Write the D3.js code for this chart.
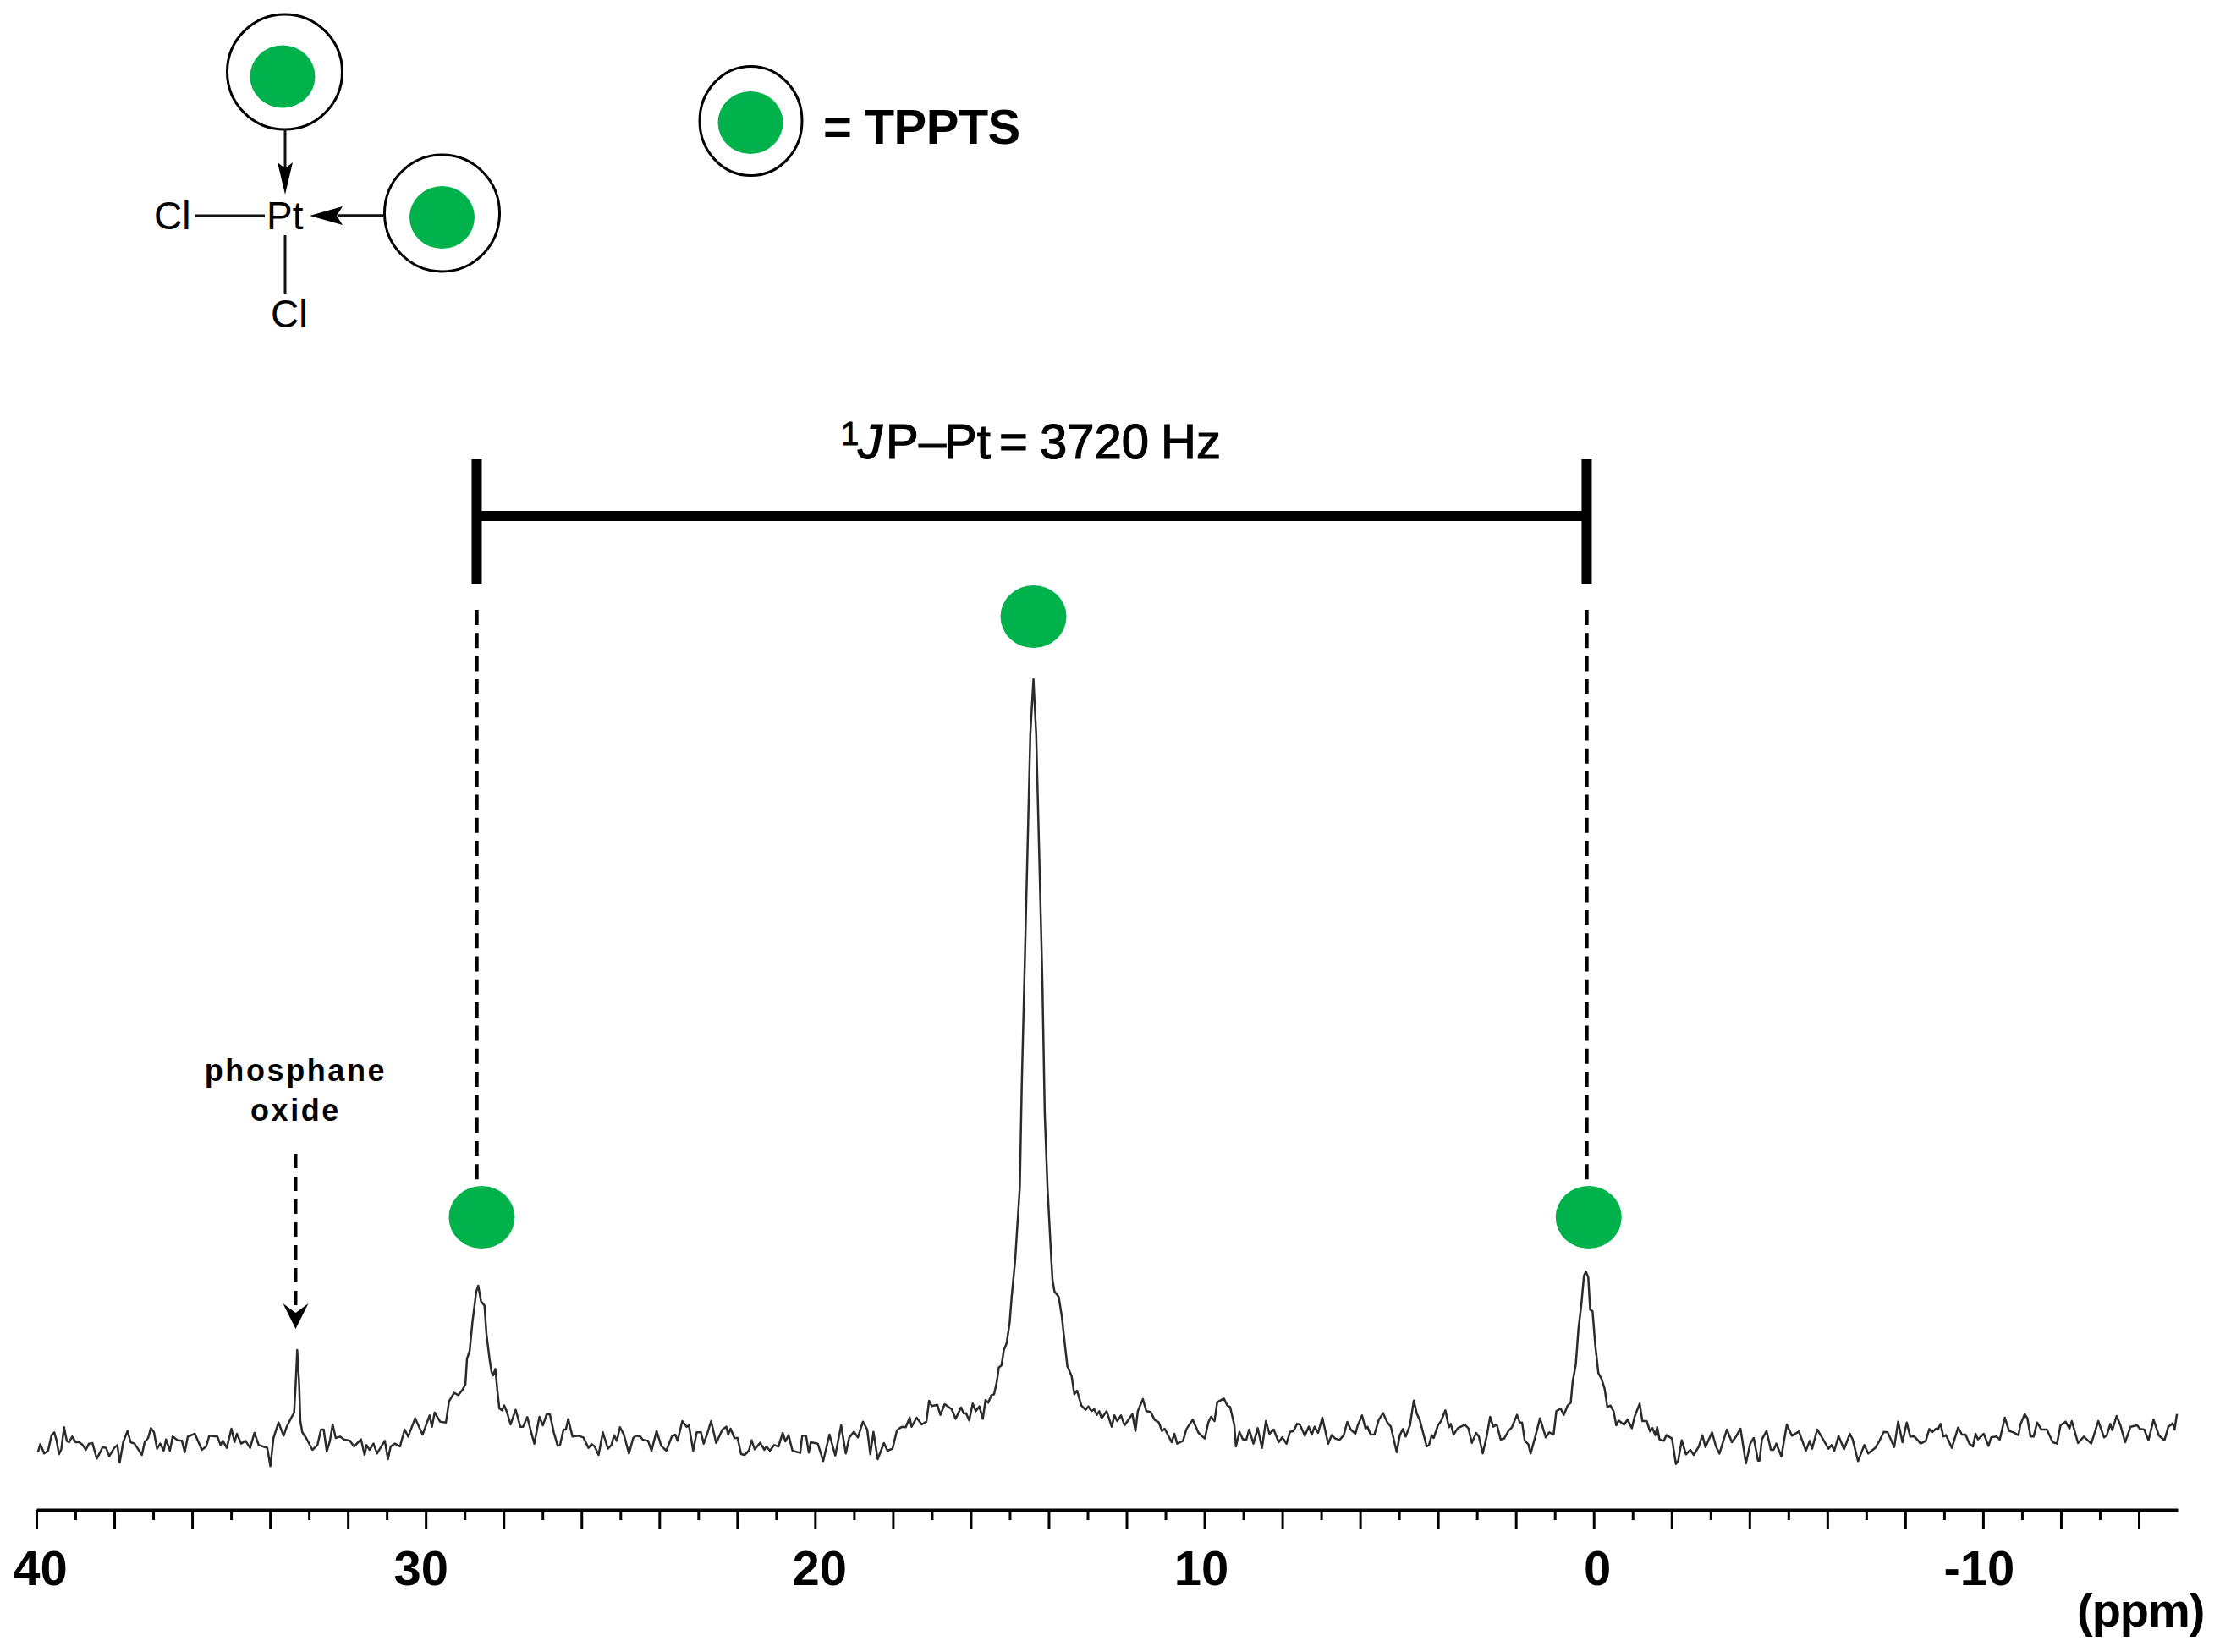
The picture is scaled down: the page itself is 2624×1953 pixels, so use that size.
<!DOCTYPE html>
<html lang="en">

<head>
  <meta charset="UTF-8">
  <title>31P NMR spectrum of cis-PtCl2(TPPTS)2</title>
  <script src="https://d3js.org/d3.v7.min.js"></script>
  <style>
    body {
      margin: 0;
      background: #fff;
      font-family: "Liberation Sans", Arial, sans-serif;
    }

    svg {
      display: block;
    }

    .trace {
      fill: none;
      stroke: #2b2b2b;
      stroke-width: 2.5px;
      stroke-linejoin: round;
    }

    .axis path,
    .axis line {
      stroke: #000;
    }

    .axis path {
      stroke-width: 4px;
    }

    .axis line {
      stroke-width: 3px;
    }

    .axis text {
      font-family: "Liberation Sans", Arial, sans-serif;
      font-size: 58px;
      font-weight: bold;
      fill: #000;
    }

    .ligand {
      fill: #00b24c;
    }

    .ring {
      fill: none;
      stroke: #000;
      stroke-width: 3px;
    }

    .bond {
      stroke: #111;
    }
  </style>
</head>

<body>
  <div id="chart"></div>

  <script>
    // Trace as [ppm, intensity (a.u.)], left to right
    const traceOxide = [
      [39.96,130],[39.90,158],[39.80,125],[39.70,135],[39.61,190],[39.54,200],[39.48,170],[39.42,122],[39.36,140],[39.29,218],
      [39.22,170],[39.16,165],[39.08,185],[38.99,165],[38.90,165],[38.81,155],[38.73,138],[38.65,160],[38.56,162],[38.45,107],
      [38.36,130],[38.30,148],[38.21,145],[38.13,115],[38.00,145],[37.92,155],[37.86,93],[37.77,165],[37.66,205],[37.58,165],
      [37.48,160],[37.29,120],[37.22,165],[37.13,180],[37.06,215],[36.98,200],[36.90,142],[36.82,160],[36.73,135],[36.67,175],
      [36.57,135],[36.50,185],[36.37,172],[36.26,170],[36.19,130],[36.11,185],[35.93,195],[35.75,138],[35.64,150],[35.56,188],
      [35.35,185],[35.27,155],[35.21,170],[35.11,145],[34.99,213],[34.91,165],[34.85,195],[34.74,160],[34.63,170],[34.51,145],
      [34.40,198],[34.29,155],[34.18,150],[34.07,145],[33.99,80],[33.91,180],[33.78,235],[33.65,188],[33.57,220],[33.44,255],
      [33.38,270],[33.34,370],[33.30,492],[33.25,370],[33.22,240],[33.17,200],[33.07,180],[32.91,138],[32.78,155],[32.69,210],
      [32.62,210],[32.54,132],[32.46,170],[32.39,228],[32.31,180],[32.20,185],[32.10,175],[31.95,170],[31.84,150],[31.66,175],
      [31.57,120],[31.52,155],[31.44,138],[31.34,160],[31.25,125],[31.12,155],[31.05,170],[30.97,105],[30.90,150],[30.79,160],
      [30.66,150],[30.54,210],[30.45,185],[30.27,250],[30.08,192],[29.90,260],[29.84,220],[29.77,270],[29.63,238],[29.48,235],
      [29.40,310],[29.27,340],[29.16,332],[29.06,350]
    ];

    const traceSatelliteLeft = [
      [28.98,370],[28.94,460],[28.87,490],[28.80,590],[28.70,700],[28.65,720],[28.58,665],[28.49,650],[28.44,550],[28.36,460],
      [28.31,415],[28.27,402],[28.21,425],[28.16,350],[28.11,285],[28.04,278],[27.98,295],[27.91,270],[27.82,228],[27.69,280],
      [27.57,220],[27.50,220],[27.39,254],[27.30,205],[27.21,160],[27.08,255],[26.99,225],[26.89,265],[26.81,263],[26.71,200],
      [26.61,152],[26.55,155],[26.46,210],[26.40,210],[26.34,247],[26.23,185],[26.08,188],[25.95,182],[25.82,145],[25.74,158],
      [25.66,150],[25.56,120],[25.45,200],[25.32,142],[25.23,155],[25.16,190],[25.09,170],[25.01,218],[24.91,192],[24.78,125],
      [24.67,180],[24.60,188],[24.49,185],[24.42,173],[24.29,170],[24.20,135],[24.07,205],[23.95,152],[23.82,135],[23.68,185],
      [23.59,192],[23.53,170],[23.41,240],[23.30,220],[23.24,225],[23.13,135],[23.04,200],[22.93,200],[22.86,160],[22.77,195],
      [22.67,240],[22.54,162],[22.38,210],[22.28,220],[22.23,192],[22.17,213],[22.07,180],[21.99,180],[21.90,123],[21.81,120],
      [21.70,135],[21.63,172],[21.55,140],[21.41,163],[21.30,138],[21.25,150],[21.16,135],[21.05,155],[20.94,150],[20.83,198],
      [20.76,168],[20.68,190],[20.58,135],[20.38,127],[20.33,188],[20.23,188],[20.16,128],[20.11,165],[19.93,160],[19.79,98],
      [19.63,192],[19.48,118],[19.33,225],[19.21,125],[19.12,182],[19.00,202],[18.90,182],[18.77,238],[18.66,210],[18.58,122],
      [18.50,202],[18.39,105],[18.23,162],[18.14,135],[18.01,142],[17.90,205]
    ];

    const traceCentral = [
      [17.86,212],[17.76,220],[17.67,218],[17.57,252],[17.52,220],[17.39,252],[17.26,228],[17.14,238],[17.07,312],[17.00,293],
      [16.86,298],[16.78,262],[16.67,300],[16.49,282],[16.39,248],[16.25,288],[16.18,267],[16.12,268],[16.04,242],[15.95,302],
      [15.87,275],[15.78,292],[15.69,248],[15.62,315],[15.55,305],[15.47,332],[15.40,335],[15.33,380],[15.28,430],[15.21,438],
      [15.15,492],[15.08,515],[15.00,590],[14.95,680],[14.86,810],[14.74,1071],[14.69,1431],[14.60,1935],[14.53,2337],[14.47,2676],
      [14.39,2871],[14.32,2676],[14.25,2295],[14.16,1794],[14.10,1332],[14.03,1071],[13.93,810],[13.90,740],[13.85,700],[13.74,680],
      [13.66,610],[13.59,520],[13.52,435],[13.41,400],[13.34,335],[13.27,348],[13.16,295],[13.05,280],[12.98,292],[12.90,275],
      [12.83,282],[12.76,262],[12.70,275],[12.64,250],[12.51,275],[12.38,220],[12.31,260],[12.24,240],[12.14,260],[12.05,225],
      [11.85,265],[11.77,205],[11.71,275],[11.58,318],[11.49,275],[11.38,272],[11.28,245],[11.17,235],[11.09,205],[11.02,213],
      [10.84,165],[10.77,195],[10.70,160],[10.55,170],[10.46,212],[10.30,245],[10.15,198],[9.99,178],[9.90,235],[9.83,255],
      [9.74,240],[9.67,307],[9.50,320],[9.41,295],[9.34,290],[9.23,225],[9.19,150],[9.10,202],[9.01,175],[8.92,175],
      [8.85,210],[8.74,160],[8.63,215],[8.52,145],[8.42,240],[8.33,195],[8.22,210],[8.09,165],[8.00,182],[7.89,160],
      [7.80,202],[7.71,205],[7.62,230],[7.55,228],[7.42,188],[7.32,220],[7.24,192],[7.17,220],[7.08,198],[6.97,252],[6.82,160]
    ];

    const traceSatelliteRight = [
      [6.73,190],[6.64,178],[6.53,173],[6.42,190],[6.33,237],[6.24,210],[6.12,195],[6.06,225],[5.95,260],[5.86,213],
      [5.81,220],[5.73,192],[5.63,193],[5.52,245],[5.41,268],[5.30,235],[5.21,220],[5.06,130],[4.98,190],[4.90,212],
      [4.83,185],[4.72,225],[4.62,313],[4.54,265],[4.47,245],[4.29,150],[4.23,155],[4.16,190],[4.11,180],[4.00,225],
      [3.92,240],[3.81,278],[3.72,218],[3.67,230],[3.60,192],[3.49,215],[3.31,227],[3.22,215],[3.13,163],[3.02,198],
      [2.95,185],[2.85,125],[2.75,185],[2.66,255],[2.58,220],[2.49,228],[2.39,175],[2.30,178],[2.19,205],[2.10,218],
      [1.97,262],[1.90,235],[1.84,235],[1.77,170],[1.68,158],[1.62,125],[1.50,185],[1.38,250],[1.23,182],[1.14,200],
      [1.03,192],[0.96,275],[0.85,285],[0.77,262],[0.67,295],[0.59,305],[0.54,380],[0.46,440],[0.39,570],[0.32,650],
      [0.25,755],[0.20,770],[0.14,750],[0.09,635],[0.03,630],[-0.04,510],[-0.12,410],[-0.20,390],[-0.28,355],[-0.35,290],
      [-0.43,295],[-0.51,275],[-0.58,225],[-0.64,242],[-0.78,227],[-0.87,245],[-0.98,215],[-1.05,255],[-1.18,302],[-1.25,240],
      [-1.36,240],[-1.45,203],[-1.51,215],[-1.58,190],[-1.63,218],[-1.69,175],[-1.80,170],[-1.87,190],[-2.01,178],[-2.11,88],
      [-2.17,100],[-2.26,172],[-2.37,122],[-2.48,138],[-2.57,120],[-2.70,150],[-2.79,190],[-2.87,148],[-3.04,200],[-3.14,150],
      [-3.23,125],[-3.42,210],[-3.55,165],[-3.64,182],[-3.77,213],[-3.91,90],[-4.02,160],[-4.11,180],[-4.22,100]
    ];

    const traceUpfield = [
      [-4.26,100],[-4.32,175],[-4.44,205],[-4.55,138],[-4.62,138],[-4.69,160],[-4.82,115],[-4.96,227],[-5.09,188],[-5.27,203],
      [-5.45,135],[-5.55,170],[-5.61,142],[-5.74,210],[-5.85,185],[-6.03,142],[-6.11,155],[-6.18,135],[-6.29,187],[-6.43,140],
      [-6.58,195],[-6.65,175],[-6.79,98],[-6.95,155],[-7.05,125],[-7.23,145],[-7.34,170],[-7.45,202],[-7.55,200],[-7.72,148],
      [-7.82,238],[-7.93,165],[-8.04,235],[-8.13,185],[-8.24,185],[-8.40,160],[-8.53,170],[-8.62,212],[-8.69,200],[-8.79,213],
      [-8.84,210],[-8.91,230],[-8.98,185],[-9.05,190],[-9.20,145],[-9.36,217],[-9.46,192],[-9.55,192],[-9.65,160],[-9.74,150],
      [-9.81,195],[-9.87,175],[-10.02,195],[-10.14,152],[-10.21,182],[-10.34,185],[-10.43,175],[-10.56,252],[-10.67,205],[-10.78,200],
      [-10.91,190],[-10.96,228],[-11.07,264],[-11.14,250],[-11.22,185],[-11.30,185],[-11.39,235],[-11.50,210],[-11.64,210],[-11.79,165],
      [-11.90,160],[-11.99,225],[-12.12,238],[-12.22,213],[-12.28,240],[-12.44,162],[-12.59,185],[-12.78,160],[-12.96,240],[-13.11,182],
      [-13.18,190],[-13.27,230],[-13.32,208],[-13.43,258],[-13.53,225],[-13.65,165],[-13.79,220],[-13.96,225],[-14.03,212],[-14.14,210],
      [-14.25,172],[-14.38,245],[-14.52,188],[-14.66,172],[-14.76,220],[-14.87,232],[-14.92,210],[-14.98,265]
    ];

    const majorTicks = d3.range(40, -15, -2);
    const minorTicks = d3.range(39, -14, -2);
    const labelledTicks = [40, 30, 20, 10, 0, -10];
    const labelNudge = [4, -6, 5, -4, 4, -5];
    const couplingPpm = [28.69, 0.18];
    const oxidePpm = 33.34;
    const ligandPpm = [28.56, 14.39, 0.13];

    const width = 2624;
    const height = 1953;
    const axisY = 1785;

    const x = d3.scaleLinear().domain([40, -15]).range([43, 2574]);
    const y = d3.scaleLinear().domain([0, 2871]).range([1760, 803]);

    const svg = d3.select("#chart")
      .append("svg")
      .attr("width", width)
      .attr("height", height);

    // Spectrum
    const trace = [...traceOxide, ...traceSatelliteLeft, ...traceCentral, ...traceSatelliteRight, ...traceUpfield];
    const line = d3.line().x(d => x(d[0])).y(d => y(d[1]));

    svg.append("path")
      .datum(trace)
      .attr("class", "trace")
      .attr("d", line);

    // ppm axis: long even ticks with labels, short odd ticks
    const majorAxis = svg.append("g")
      .attr("class", "axis")
      .attr("transform", `translate(0,${axisY})`)
      .call(d3.axisBottom(x)
        .tickValues(majorTicks)
        .tickSize(23)
        .tickSizeOuter(0)
        .tickPadding(25)
        .tickFormat(d => labelledTicks.includes(d) ? String(d) : ""));

    majorAxis.selectAll("text")
      .attr("dx", d => labelNudge[labelledTicks.indexOf(d)] || 0);

    svg.append("g")
      .attr("class", "axis")
      .attr("transform", `translate(0,${axisY})`)
      .call(d3.axisBottom(x)
        .tickValues(minorTicks)
        .tickSize(12)
        .tickSizeOuter(0)
        .tickFormat(""))
      .select(".domain").remove();

    svg.append("text")
      .attr("x", 2455)
      .attr("y", 1923)
      .style("font-size", "56px")
      .style("font-weight", "bold")
      .style("letter-spacing", "-1px")
      .text("(ppm)");

    // Coupling bracket with dashed drop lines
    svg.append("line")
      .attr("x1", x(couplingPpm[0]))
      .attr("x2", x(couplingPpm[1]))
      .attr("y1", 610)
      .attr("y2", 610)
      .attr("stroke", "#000")
      .attr("stroke-width", 12);

    couplingPpm.forEach(p => {
      svg.append("line")
        .attr("x1", x(p)).attr("x2", x(p))
        .attr("y1", 543).attr("y2", 690)
        .attr("stroke", "#000")
        .attr("stroke-width", 12);

      svg.append("line")
        .attr("x1", x(p)).attr("x2", x(p))
        .attr("y1", 721).attr("y2", 1406)
        .attr("stroke", "#000")
        .attr("stroke-width", 4.5)
        .attr("stroke-dasharray", "18 9.3");
    });

    // Coupling label, glyph groups placed one by one like the drawn label
    const coupling = svg.append("text")
      .attr("y", 541.5)
      .style("font-size", "58px")
      .style("stroke", "#000")
      .style("stroke-width", "1.2px");

    coupling.append("tspan").attr("x", 994).attr("y", 526).style("font-size", "38px").text("1");
    coupling.append("tspan").attr("x", 1014).attr("y", 541.5).style("font-style", "italic").text("J");
    coupling.append("tspan").attr("x", 1047).text("P");
    coupling.append("tspan").attr("x", 1086).text("\u2013");
    coupling.append("tspan").attr("x", 1116).text("Pt");
    coupling.append("tspan").attr("x", 1181).text("=");
    coupling.append("tspan").attr("x", 1229).text("3720");
    coupling.append("tspan").attr("x", 1372).text("Hz");

    // Green ligand dots above the three signals
    svg.selectAll(".peak-dot")
      .data(ligandPpm)
      .enter()
      .append("ellipse")
      .attr("class", "ligand peak-dot")
      .attr("cx", d => x(d))
      .attr("cy", (d, i) => i === 1 ? 729 : 1439)
      .attr("rx", 39)
      .attr("ry", 37);

    // Phosphane oxide note
    const note = svg.append("text")
      .attr("text-anchor", "middle")
      .style("font-size", "36px")
      .style("font-weight", "bold")
      .style("letter-spacing", "2.6px");

    note.append("tspan").attr("x", x(oxidePpm)).attr("y", 1278).text("phosphane");
    note.append("tspan").attr("x", x(oxidePpm)).attr("y", 1325).text("oxide");

    const oxideX = x(oxidePpm);
    svg.append("line")
      .attr("x1", oxideX).attr("x2", oxideX)
      .attr("y1", 1364).attr("y2", 1548)
      .attr("stroke", "#000")
      .attr("stroke-width", 4)
      .attr("stroke-dasharray", "17 10");

    svg.append("path")
      .attr("d", `M${oxideX - 15},1541 L${oxideX},1552 L${oxideX + 15},1541 L${oxideX},1571 Z`)
      .attr("fill", "#000");

    // Complex sketch, top left
    const rings = [
      { cx: 336.5, cy: 85, rx: 68, ry: 68, gx: 334, gy: 90.5 },
      { cx: 522.5, cy: 252, rx: 68, ry: 69, gx: 522.5, gy: 257 },
      { cx: 887.5, cy: 143, rx: 60.5, ry: 64.5, gx: 887, gy: 145 }
    ];

    rings.forEach(r => {
      svg.append("ellipse")
        .attr("class", "ring")
        .attr("cx", r.cx).attr("cy", r.cy)
        .attr("rx", r.rx).attr("ry", r.ry);

      svg.append("ellipse")
        .attr("class", "ligand")
        .attr("cx", r.gx).attr("cy", r.gy)
        .attr("rx", 38.5).attr("ry", 37);
    });

    const bonds = [
      [337, 153, 337, 200, 3],
      [453.5, 255, 400, 255, 3.5],
      [230, 255, 313, 255, 3],
      [337, 278, 337, 347, 3]
    ];

    bonds.forEach(b => {
      svg.append("line")
        .attr("class", "bond")
        .attr("x1", b[0]).attr("y1", b[1])
        .attr("x2", b[2]).attr("y2", b[3])
        .attr("stroke-width", b[4]);
    });

    svg.append("path").attr("d", "M328,192 L337,230 L346,192 L337,199 Z").attr("fill", "#000");
    svg.append("path").attr("d", "M366,255 L405,244 L398,255 L405,266 Z").attr("fill", "#000");

    const atoms = [
      ["Cl", 182, 271],
      ["Pt", 315, 271],
      ["Cl", 320, 387]
    ];

    svg.selectAll(".atom")
      .data(atoms)
      .enter()
      .append("text")
      .attr("class", "atom")
      .attr("x", d => d[1])
      .attr("y", d => d[2])
      .style("font-size", "46px")
      .text(d => d[0]);

    svg.append("text")
      .attr("x", 973)
      .attr("y", 170)
      .style("font-size", "58px")
      .style("font-weight", "bold")
      .style("letter-spacing", "-0.6px")
      .text("= TPPTS");
  </script>
</body>

</html>
